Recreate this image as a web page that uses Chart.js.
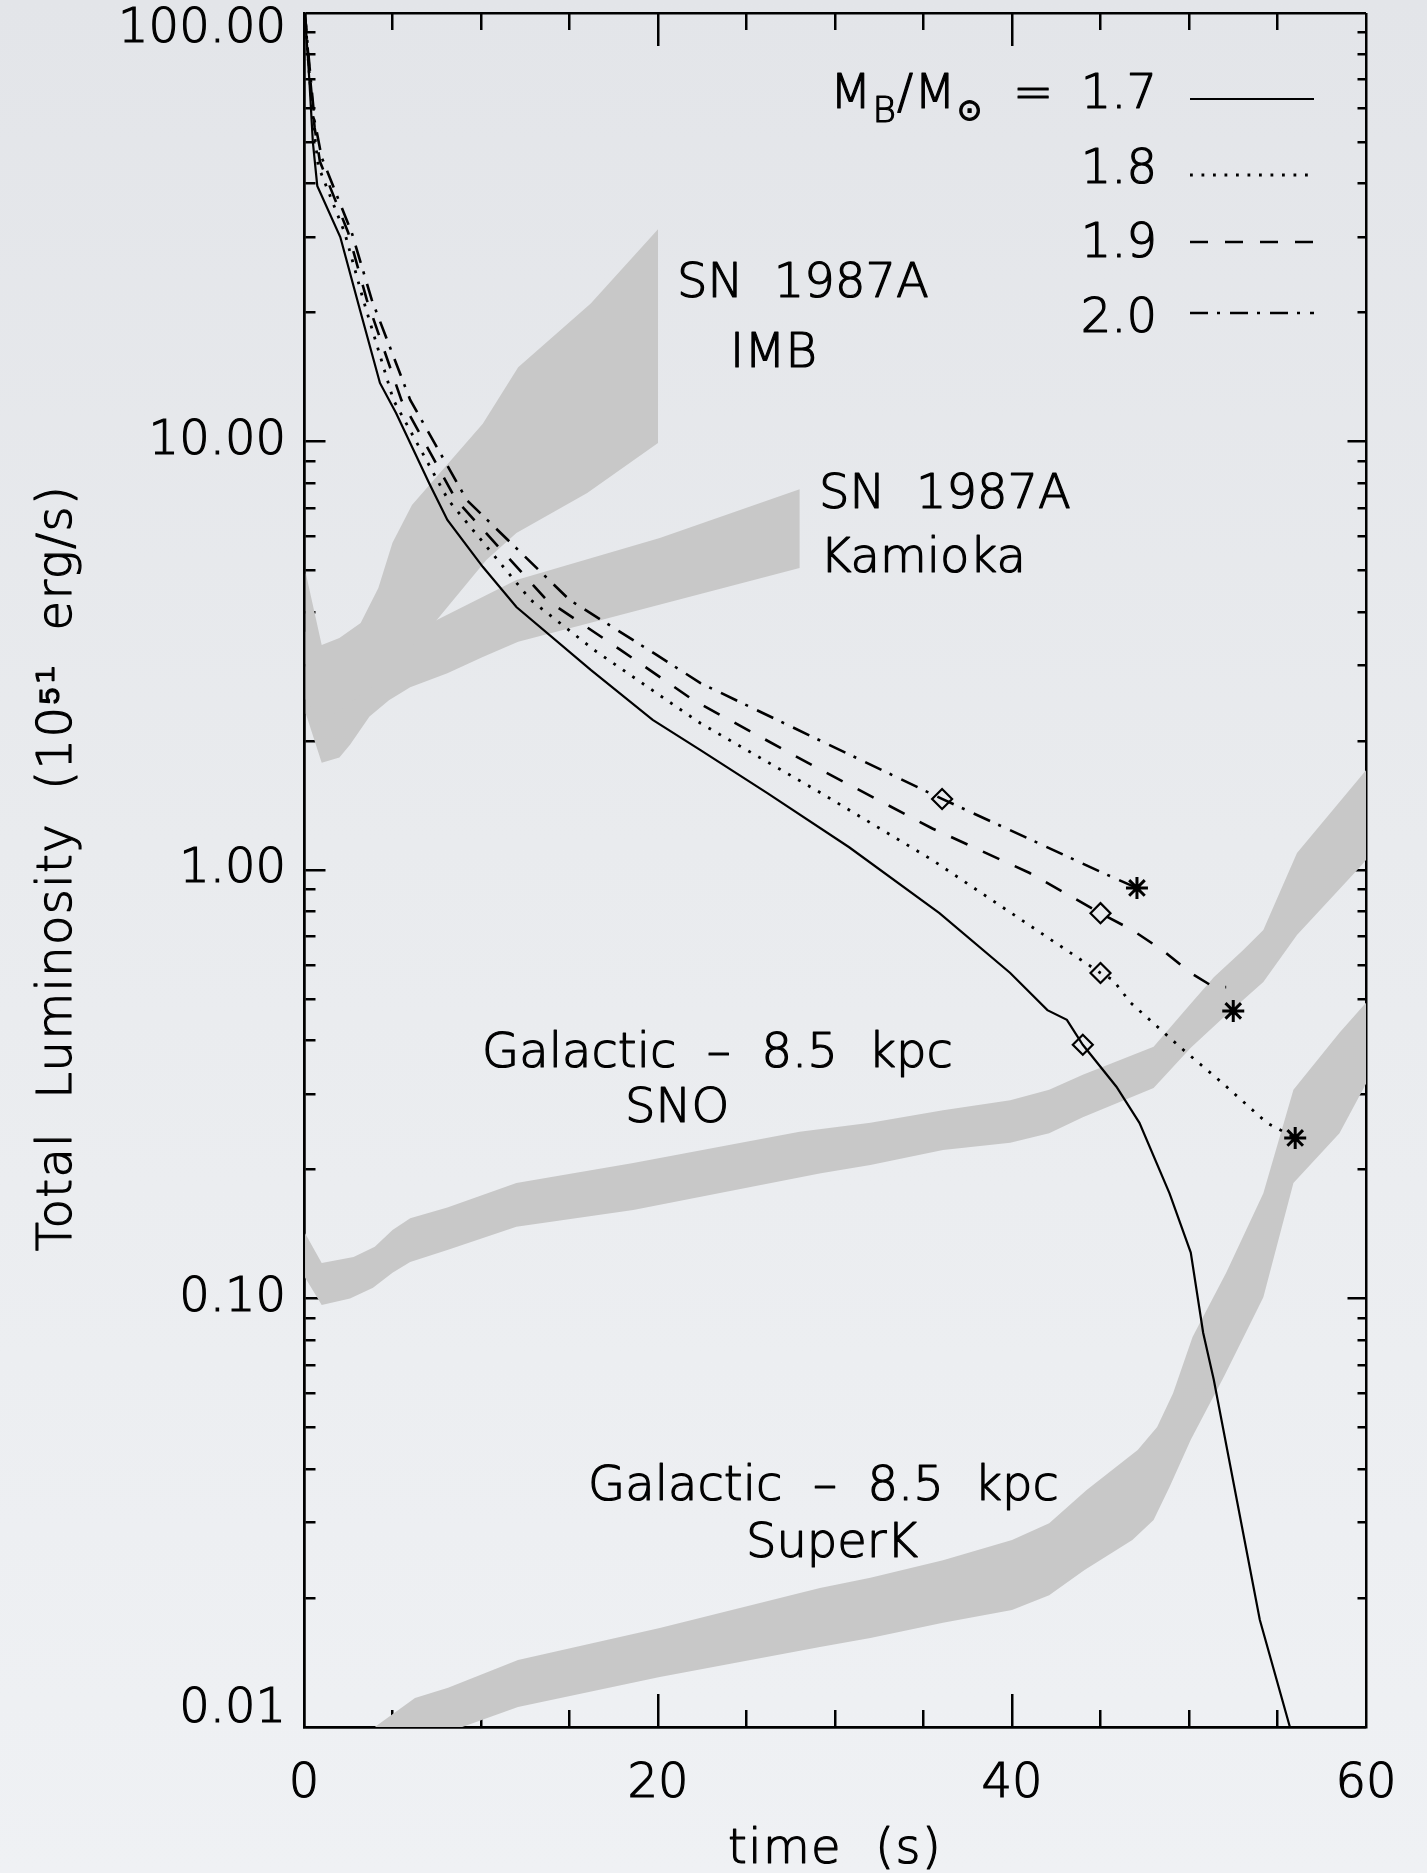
<!DOCTYPE html>
<html>
<head>
<meta charset="utf-8">
<title>Total luminosity vs time</title>
<script src="https://cdn.jsdelivr.net/npm/chart.js@4.4.1/dist/chart.umd.min.js"></script>
<style>
  html, body { margin: 0; padding: 0; }
  body {
    width: 1427px; height: 1873px; overflow: hidden;
    background: linear-gradient(180deg, #e3e5e9 0%, #e9ebee 45%, #eff1f4 100%);
  }
  canvas { display: block; }
</style>
</head>
<body>
<canvas id="lumChart" width="1427" height="1873"></canvas>
<script>
// cooling curves: time (s) and total luminosity (1e51 erg/s) for each baryon mass
const massLabels = ['1.7', '1.8', '1.9', '2.0'];

const t17 = [0.05, 0.3, 0.5, 0.75, 2.05, 3.16, 4.29, 5.2, 7.1, 8.1, 10.1, 12.0, 16.2, 19.7, 22.4, 26.2, 30.8, 35.9, 39.9, 42.0, 43.1, 44.0, 45.9, 47.2, 48.9, 50.1, 50.8, 51.4, 54.0, 55.7];
const lum17 = [100, 70, 50, 39.5, 30.0, 20.3, 13.7, 11.65, 7.95, 6.56, 5.10, 4.11, 2.93, 2.24, 1.905, 1.51, 1.13, 0.793, 0.575, 0.471, 0.447, 0.391, 0.312, 0.257, 0.176, 0.128, 0.0832, 0.0646, 0.0178, 0.0100];

const t18 = [0.05, 0.3, 0.6, 0.8, 2.3, 3.35, 5.05, 8.15, 12.8, 16.4, 20.5, 22.4, 29.0, 35.5, 40.8, 45.0, 45.7, 46.7, 47.6, 49.5, 51.9, 54.4, 56.0];
const lum18 = [100, 72, 52, 44, 30.7, 21.4, 12.5, 7.30, 4.27, 3.26, 2.49, 2.20, 1.53, 1.055, 0.752, 0.575, 0.554, 0.490, 0.454, 0.386, 0.318, 0.257, 0.237];

const t19 = [0.05, 0.3, 0.6, 0.9, 2.5, 3.55, 5.5, 8.6, 13.7, 17.9, 22.0, 29.0, 35.5, 41.0, 45.0, 46.8, 48.5, 50.1, 51.4, 52.1];
const lum19 = [100, 74, 54, 45, 30.7, 21.4, 12.5, 7.30, 4.27, 3.26, 2.49, 1.73, 1.25, 0.984, 0.793, 0.724, 0.650, 0.575, 0.533, 0.533];

const t20 = [0.05, 0.3, 0.6, 1.0, 2.7, 3.83, 6.0, 9.2, 15.0, 19.9, 22.4, 29.0, 36.05, 41.2, 45.0, 47.06];
const lum20 = [100, 76, 56, 46, 30.7, 21.4, 12.5, 7.30, 4.27, 3.18, 2.73, 2.02, 1.465, 1.17, 0.99, 0.908];

// open diamonds and asterisks sitting on the curves
const diamondT = [44.0, 45.0, 45.0, 36.05];
const diamondLum = [0.391, 0.575, 0.793, 1.465];
const starT = [56.0, 52.5, 47.06];
const starLum = [0.237, 0.469, 0.908];

// detector bands as closed outlines: upper edge left to right, then lower edge back
const imbT = [0.1, 1.0, 2.0, 3.2, 4.2, 5.0, 6.1, 10.1, 12.1, 16.2, 20.0, 20.0, 16.0, 12.0, 10.3, 7.5, 4.0, 1.0, 0.1, 0.1];
const imbLum = [4.93, 3.35, 3.48, 3.77, 4.55, 5.80, 7.11, 11.0, 14.9, 21.0, 31.3, 9.92, 7.58, 6.12, 5.29, 3.83, 2.7, 2.2, 2.5, 4.93];

const kamT = [0.1, 1.0, 4.0, 7.5, 12.0, 20.1, 28.0, 28.0, 12.1, 10.1, 8.1, 6.0, 4.8, 3.7, 2.6, 2.0, 1.0, 0.1, 0.1];
const kamLum = [3.6, 3.0, 3.2, 3.83, 4.75, 5.95, 7.74, 5.07, 3.41, 3.14, 2.88, 2.67, 2.49, 2.28, 1.96, 1.83, 1.78, 2.32, 3.6];

const snoT = [0.06, 1.0, 2.8, 4.0, 5.0, 6.0, 8.1, 12.0, 18.6, 28.0, 32.0, 36.1, 39.9, 42.1, 44.0, 48.0, 49.9, 51.4, 53.05, 54.2, 56.1, 60,
  60, 59.66, 56.1, 54.2, 52.1, 50.1, 48.0, 44.0, 42.1, 39.9, 36.1, 32.0, 29.2, 18.6, 12.0, 8.1, 6.0, 5.0, 3.9, 2.6, 1.0, 0.06, 0.06];
const snoLum = [0.142, 0.121, 0.125, 0.132, 0.1445, 0.154, 0.163, 0.186, 0.207, 0.245, 0.257, 0.275, 0.290, 0.307, 0.333, 0.387, 0.477, 0.562, 0.650, 0.724, 1.096, 1.71,
  1.055, 1.016, 0.705, 0.548, 0.459, 0.385, 0.310, 0.265, 0.243, 0.231, 0.222, 0.205, 0.196, 0.161, 0.147, 0.1297, 0.1217, 0.1148, 0.106, 0.100, 0.0966, 0.112, 0.142];

const superkT = [4.0, 6.27, 8.14, 12.09, 20.1, 29.15, 32.0, 36.1, 40.0, 42.1, 44.2, 47.1, 48.2, 49.1, 50.2, 52.1, 54.2, 55.9, 58.5, 60,
  60, 58.5, 55.9, 54.2, 52.0, 50.1, 48.9, 48.0, 46.8, 44.1, 42.1, 40.0, 36.1, 32.0, 29.15, 20.1, 12.09, 8.14, 4.0];
const superkLum = [0.0100, 0.01169, 0.01234, 0.01433, 0.01702, 0.0211, 0.0223, 0.0245, 0.0273, 0.0299, 0.0357, 0.0443, 0.0501, 0.0601, 0.0813, 0.1148, 0.176, 0.307, 0.417, 0.49,
  0.317, 0.243, 0.186, 0.1007, 0.066, 0.0468, 0.0363, 0.0304, 0.0273, 0.02325, 0.0203, 0.01876, 0.0175, 0.01613, 0.01537, 0.01309, 0.01114, 0.00973, 0.0100];

// band captions, anchored at their left end on the text baseline
const noteText = ['SN  1987A', 'IMB', 'SN  1987A', 'Kamioka', 'Galactic  \u2013  8.5  kpc', 'SNO', 'Galactic  \u2013  8.5  kpc', 'SuperK'];
const noteT = [21.07, 24.07, 29.1, 29.15, 10.06, 18.14, 16.05, 24.97];
const noteLum = [21.7, 14.9, 7.0, 4.96, 0.347, 0.258, 0.0339, 0.0249];

// axis ticks and titles
const timeTicks = [0, 5, 10, 15, 20, 25, 30, 35, 40, 45, 50, 55, 60];
const lumTicks = [];
[0.01, 0.1, 1, 10].forEach(d => { for (let k = 1; k < 10; k++) lumTicks.push(+(d * k).toPrecision(3)); });
lumTicks.push(100);
const lumLabels = { 0.01: ['0.01', ''], 0.1: '0.10', 1: '1.00', 10: '10.00', 100: ['', '100.00'] };
const xTitle = 'time  (s)';
const yTitle = 'Total  Luminosity  (10\u2075\u00b9  erg/s)';

const FONT = '"DejaVu Sans", "Liberation Sans", sans-serif';
const WEIGHT = 300;
const SIZE = 48;
const STROKE = 1.2;
const INK = '#000';
const BAND = '#c8c8c8';

const pts = (ts, ls) => ts.map((t, i) => ({ x: t, y: ls[i] }));
const isMajorTime = v => v % 20 === 0;
const isDecade = v => Math.abs(Math.log10(v) - Math.round(Math.log10(v))) < 1e-6;

function band(ts, ls) {
  return {
    data: pts(ts, ls), showLine: true, fill: 'shape', backgroundColor: BAND,
    borderColor: 'rgba(0,0,0,0)', borderWidth: 1, pointRadius: 0, order: 3
  };
}

function curve(mass, ts, ls, width, dash) {
  return {
    massLabel: mass, data: pts(ts, ls), showLine: true, fill: false,
    borderColor: INK, borderWidth: width, borderDash: dash, borderCapStyle: 'butt',
    pointRadius: 0, order: 2
  };
}

function markers(ts, ls, style, radius, width) {
  return {
    data: pts(ts, ls), showLine: false, pointStyle: style, pointRadius: radius,
    pointBorderWidth: width, pointBorderColor: INK, pointBackgroundColor: 'rgba(0,0,0,0)', order: 1
  };
}

// Grid lines run across the whole plot; the dash pattern keeps only a short
// stub at each end, so every tick shows up on both opposite sides, pointing inward.
// The lines at the axis ends stay solid and close the frame.
function tickDash(horizontal, majorLen, minorLen, isMajor) {
  return c => {
    if (!c.tick) return [];
    const area = c.chart.chartArea;
    const span = horizontal ? area.bottom - area.top : area.right - area.left;
    const scale = c.scale;
    const v = c.tick.value;
    if (v <= scale.min + 1e-9 || v >= scale.max - 1e-9) return [];
    const len = isMajor(v) ? majorLen : minorLen;
    return [len, span - 2 * len, len, 4000];
  };
}

// light face with a thin outline, for the slightly heavier strokes of the lettering
function inkText(ctx, s, x, y) {
  ctx.fillText(s, x, y);
  ctx.strokeText(s, x, y);
}

function setInk(ctx, size) {
  ctx.font = `${WEIGHT} ${size}px ${FONT}`;
  ctx.fillStyle = INK;
  ctx.strokeStyle = INK;
  ctx.lineWidth = STROKE;
  ctx.lineJoin = 'round';
}

const tickFont = { family: FONT, size: SIZE, weight: WEIGHT };

const captionsPlugin = {
  id: 'captions',
  afterDatasetsDraw(chart) {
    const { ctx, scales: { x, y } } = chart;
    ctx.save();
    setInk(ctx, SIZE);
    ctx.textAlign = 'left';
    ctx.textBaseline = 'alphabetic';
    noteText.forEach((s, i) => inkText(ctx, s, x.getPixelForValue(noteT[i]), y.getPixelForValue(noteLum[i])));
    ctx.restore();
  }
};

const axisTitlesPlugin = {
  id: 'axisTitles',
  afterDraw(chart) {
    const { ctx, chartArea } = chart;
    ctx.save();
    setInk(ctx, SIZE);
    ctx.letterSpacing = '1.4px';
    ctx.textAlign = 'center';
    ctx.textBaseline = 'alphabetic';
    inkText(ctx, xTitle, (chartArea.left + chartArea.right) / 2, chartArea.bottom + 136);
    ctx.translate(chartArea.left - 233, (chartArea.top + chartArea.bottom) / 2 - 2);
    ctx.rotate(-Math.PI / 2);
    inkText(ctx, yTitle, 0, 0);
    ctx.restore();
  }
};

const massLegendPlugin = {
  id: 'massLegend',
  afterDraw(chart) {
    const { ctx, chartArea } = chart;
    const curves = chart.data.datasets.filter(d => d.massLabel);
    const numRight = chartArea.right - 209;
    const lineLeft = chartArea.right - 176;
    const lineRight = chartArea.right - 52;
    const baselines = [95, 170, 244, 319];
    const lineYs = [86, 162, 229, 300];
    ctx.save();
    ctx.textBaseline = 'alphabetic';
    curves.forEach((ds, i) => {
      setInk(ctx, SIZE);
      ctx.textAlign = 'right';
      inkText(ctx, ds.massLabel, numRight, chartArea.top + baselines[i]);
      const ly = chartArea.top + lineYs[i];
      ctx.lineWidth = ds.borderWidth;
      ctx.lineCap = 'butt';
      ctx.setLineDash(ds.borderDash || []);
      ctx.beginPath();
      ctx.moveTo(lineLeft, ly);
      ctx.lineTo(lineRight, ly);
      ctx.stroke();
      ctx.setLineDash([]);
    });
    // "M_B/M_sun =" ahead of the first entry
    const by = chartArea.top + baselines[0];
    let cx = chartArea.right - 536;
    ctx.textAlign = 'left';
    [['M', SIZE, 0], ['B', 36, 14], ['/', SIZE, 0], ['M', SIZE, 0], ['\u2299', 30, 12]].forEach(([s, size, drop]) => {
      setInk(ctx, size);
      inkText(ctx, s, cx, by + drop);
      cx += ctx.measureText(s).width + 1;
    });
    setInk(ctx, SIZE);
    ctx.textAlign = 'center';
    inkText(ctx, '=', chartArea.right - 333, by);
    ctx.restore();
  }
};

new Chart(document.getElementById('lumChart'), {
  type: 'scatter',
  data: {
    datasets: [
      curve(massLabels[0], t17, lum17, 2.2, []),
      curve(massLabels[1], t18, lum18, 2.8, [2.8, 8.7]),
      curve(massLabels[2], t19, lum19, 2.6, [18, 17]),
      curve(massLabels[3], t20, lum20, 2.6, [18, 9, 3, 10]),
      markers(diamondT, diamondLum, 'rectRot', 10, 2.2),
      markers(starT, starLum, 'star', 11, 3),
      band(imbT, imbLum),
      band(kamT, kamLum),
      band(snoT, snoLum),
      band(superkT, superkLum)
    ]
  },
  options: {
    responsive: false,
    animation: false,
    events: [],
    layout: { autoPadding: false, padding: { top: 13, right: 61, bottom: 0, left: 0 } },
    plugins: { legend: { display: false }, tooltip: { enabled: false } },
    scales: {
      x: {
        type: 'linear', position: 'bottom', min: 0, max: 60,
        afterBuildTicks: s => { s.ticks = timeTicks.map(v => ({ value: v })); },
        afterFit: s => { s.height = 146; s.paddingLeft = 0; s.paddingRight = 0; },
        border: { display: true, color: INK, width: 2.5, dash: tickDash(true, 33, 17, isMajorTime) },
        grid: { display: true, drawOnChartArea: true, drawTicks: false, color: INK, lineWidth: 2.5 },
        ticks: {
          autoSkip: false, maxRotation: 0, padding: 29, color: INK, font: tickFont,
          textStrokeColor: INK, textStrokeWidth: STROKE,
          callback: v => (isMajorTime(v) ? String(v) : '')
        },
        title: { display: false }
      },
      y: {
        type: 'logarithmic', position: 'left', min: 0.01, max: 100,
        afterBuildTicks: s => { s.ticks = lumTicks.map(v => ({ value: v })); },
        afterFit: s => { s.width = 304; s.paddingTop = 0; s.paddingBottom = 0; },
        border: { display: true, color: INK, width: 2.5, dash: tickDash(false, 20, 10, isDecade) },
        grid: { display: true, drawOnChartArea: true, drawTicks: false, color: INK, lineWidth: 2.5 },
        ticks: {
          autoSkip: false, padding: 18, color: INK,
          font: { family: FONT, size: SIZE, weight: WEIGHT, lineHeight: '34px' },
          textStrokeColor: INK, textStrokeWidth: STROKE,
          callback: v => (isDecade(v) ? lumLabels[+v.toPrecision(1)] : '')
        },
        title: { display: false }
      }
    }
  },
  plugins: [captionsPlugin, axisTitlesPlugin, massLegendPlugin]
});
</script>
</body>
</html>
